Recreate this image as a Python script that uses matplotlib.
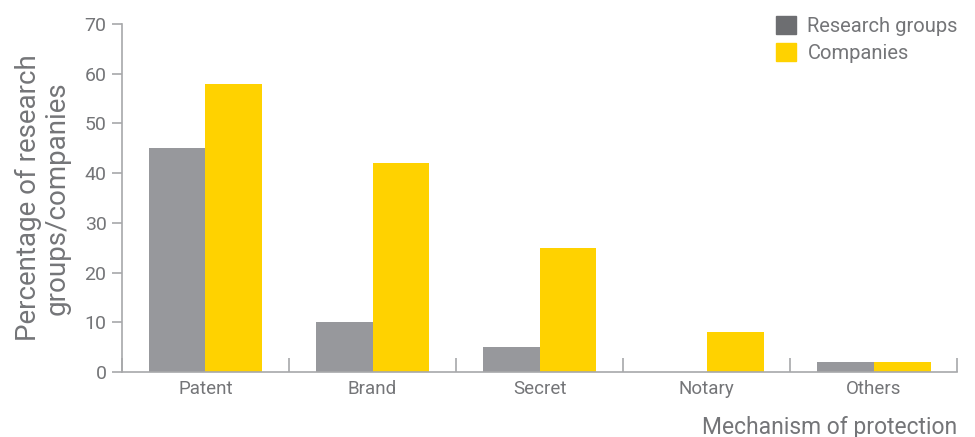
import matplotlib
matplotlib.use("Agg")
import matplotlib.pyplot as plt
import numpy as np
from matplotlib.patches import Patch

categories = ["Patent", "Brand", "Secret", "Notary", "Others"]
research_groups = [45, 10, 5, 0, 2]
companies = [58, 42, 25, 8, 2]
y_ticks = [0, 10, 20, 30, 40, 50, 60, 70]

GRAY = "#97989c"
GRAY_DARK = "#6d6e71"
YELLOW = "#ffd200"
AXIS = "#a7a8aa"
TEXT = "#747578"

plt.rcParams["font.family"] = ["Roboto", "DejaVu Sans"]

fig = plt.figure(figsize=(9.75, 4.37), dpi=100)
ax = fig.add_axes([0.125, 0.149, 0.857, 0.796])

x = np.arange(len(categories))
w = 0.34
ax.bar(x - w / 2, research_groups, width=w, color=GRAY, linewidth=0)
ax.bar(x + w / 2, companies, width=w, color=YELLOW, linewidth=0)

ax.set_xlim(-0.5, len(categories) - 0.5)
ax.set_ylim(0, 70)
ax.set_yticks(y_ticks)

for s in ["top", "right"]:
    ax.spines[s].set_visible(False)
for s in ["left", "bottom"]:
    ax.spines[s].set_color(AXIS)
    ax.spines[s].set_linewidth(1.2)

ax.tick_params(axis="y", direction="out", length=7, width=1.2, color=AXIS,
               labelsize=14, labelcolor=TEXT, pad=4)
# category separators on the x axis
ax.set_xticks(np.arange(len(categories) + 1) - 0.5, minor=False)
ax.set_xticklabels([])
ax.tick_params(axis="x", direction="in", length=10, width=1.2, color=AXIS)
ax.set_xticks(x, minor=True)
ax.set_xticklabels(categories, minor=True)
ax.tick_params(axis="x", which="minor", length=0, labelsize=13.5, labelcolor=TEXT, pad=6)

ax.set_ylabel("Percentage of research\ngroups/companies", fontsize=20, color=TEXT,
              linespacing=1.1, labelpad=10)
fig.text(0.982, 0.022, "Mechanism of protection", ha="right", va="center",
         fontsize=16.5, color=TEXT)

handles = [Patch(color=GRAY_DARK, label="Research groups"),
           Patch(color=YELLOW, label="Companies")]
leg = ax.legend(handles=handles, loc="upper right", bbox_to_anchor=(1.01, 1.045),
                frameon=False, fontsize=14.5, handlelength=1.0, handleheight=1.0,
                handletextpad=0.55, labelspacing=0.35, borderaxespad=0)
for t in leg.get_texts():
    t.set_color(TEXT)

fig.savefig("out.png", dpi=100)
